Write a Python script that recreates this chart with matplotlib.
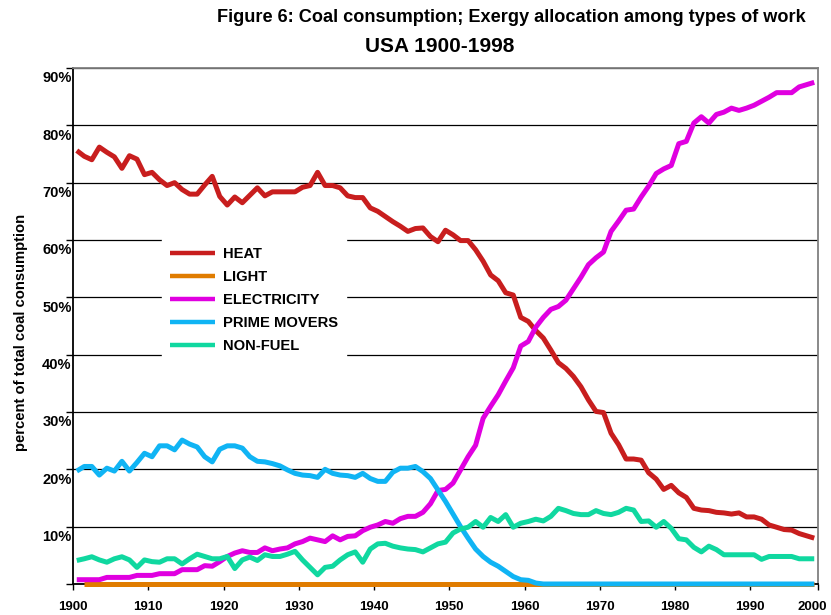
import numpy as np
import matplotlib
matplotlib.use('Agg')
import matplotlib.pyplot as plt
from matplotlib.transforms import ScaledTranslation

plt.rcParams['font.family'] = ['Liberation Sans', 'DejaVu Sans']
plt.rcParams['font.weight'] = 'bold'

# annual data 1900-1998, percent of total coal consumption
years = np.arange(1900, 1999)

heat = [
    75.6, 74.6, 74.0, 76.2, 75.3, 74.5, 72.5, 74.7, 74.1, 71.4,
    71.8, 70.5, 69.5, 70.0, 68.8, 68.0, 68.0, 69.6, 71.1, 67.6,
    66.1, 67.5, 66.5, 67.8, 69.1, 67.7, 68.4, 68.4, 68.4, 68.4,
    69.2, 69.5, 71.8, 69.5, 69.5, 69.1, 67.7, 67.4, 67.4, 65.6,
    65.0, 64.1, 63.2, 62.4, 61.5, 62.0, 62.1, 60.6, 59.7, 61.7,
    60.9, 59.9, 59.9, 58.3, 56.3, 53.9, 52.9, 50.8, 50.4, 46.5,
    45.8, 44.2, 42.9, 40.8, 38.6, 37.6, 36.2, 34.4, 32.1, 30.1,
    29.9, 26.3, 24.3, 21.8, 21.8, 21.6, 19.4, 18.3, 16.5, 17.2,
    15.9, 15.1, 13.2, 12.9, 12.8, 12.5, 12.4, 12.2, 12.4, 11.7,
    11.7, 11.3, 10.3, 9.9, 9.5, 9.4, 8.8, 8.4, 8.0,
]

light = [np.nan] + [0.0] * 98

electricity = [
    0.75, 0.75, 0.75, 0.75, 1.15, 1.15, 1.15, 1.15, 1.5, 1.5,
    1.5, 1.8, 1.8, 1.8, 2.5, 2.5, 2.5, 3.2, 3.1, 3.9,
    4.8, 5.4, 5.8, 5.5, 5.5, 6.3, 5.8, 6.1, 6.3, 7.0,
    7.4, 8.0, 7.7, 7.4, 8.4, 7.7, 8.3, 8.4, 9.3, 9.9,
    10.3, 10.9, 10.6, 11.4, 11.8, 11.8, 12.5, 14.0, 16.3, 16.5,
    17.6, 19.9, 22.2, 24.2, 28.9, 31.0, 33.0, 35.4, 37.7, 41.5,
    42.3, 44.8, 46.5, 47.9, 48.4, 49.5, 51.5, 53.5, 55.7, 56.9,
    57.9, 61.5, 63.3, 65.2, 65.4, 67.5, 69.4, 71.6, 72.4, 73.0,
    76.8, 77.2, 80.4, 81.5, 80.4, 81.9, 82.3, 83.0, 82.6, 83.0,
    83.5, 84.2, 84.9, 85.7, 85.7, 85.7, 86.7, 87.1, 87.5,
]

prime_movers = [
    19.7, 20.5, 20.5, 19.0, 20.2, 19.7, 21.4, 19.7, 21.2, 22.8,
    22.2, 24.1, 24.1, 23.4, 25.1, 24.4, 23.9, 22.2, 21.3, 23.5,
    24.1, 24.1, 23.7, 22.2, 21.4, 21.3, 21.0, 20.6, 19.9, 19.3,
    19.0, 18.9, 18.6, 20.0, 19.3, 19.0, 18.9, 18.6, 19.3, 18.4,
    17.9, 17.9, 19.5, 20.2, 20.2, 20.5, 19.6, 18.4, 16.4, 14.4,
    12.2, 10.0, 8.0, 6.1, 4.8, 3.8, 3.1, 2.2, 1.3, 0.75,
    0.64, 0.17,
] + [0.0] * 37

non_fuel = [
    4.1, 4.4, 4.75, 4.2, 3.8, 4.4, 4.75, 4.2, 2.9, 4.2,
    3.9, 3.8, 4.4, 4.4, 3.5, 4.4, 5.2, 4.8, 4.4, 4.4,
    4.8, 2.7, 4.2, 4.7, 4.1, 5.1, 4.8, 4.8, 5.2, 5.7,
    4.2, 2.9, 1.6, 2.9, 3.1, 4.2, 5.1, 5.6, 3.8, 6.1,
    7.0, 7.1, 6.6, 6.3, 6.1, 6.0, 5.6, 6.3, 7.0, 7.3,
    8.9, 9.6, 9.9, 10.9, 9.9, 11.6, 10.9, 12.1, 9.9, 10.6,
    10.9, 11.3, 11.0, 11.8, 13.2, 12.8, 12.3, 12.1, 12.1, 12.8,
    12.3, 12.1, 12.5, 13.2, 12.9, 10.9, 11.0, 9.9, 10.9, 9.7,
    7.9, 7.7, 6.4, 5.6, 6.6, 6.0, 5.1, 5.1, 5.1, 5.1,
    5.1, 4.3, 4.8, 4.8, 4.8, 4.8, 4.4, 4.4, 4.4,
]

series = [
    ('HEAT', heat, '#c81e1e'),
    ('LIGHT', light, '#e07c00'),
    ('ELECTRICITY', electricity, '#e000e0'),
    ('PRIME MOVERS', prime_movers, '#10b4f4'),
    ('NON-FUEL', non_fuel, '#10d8a0'),
]

y_ticks = [0, 10, 20, 30, 40, 50, 60, 70, 80, 90]
x_ticks = [1900, 1910, 1920, 1930, 1940, 1950, 1960, 1970, 1980, 1990, 1999]
x_labels = ['1900', '1910', '1920', '1930', '1940', '1950', '1960', '1970',
            '1980', '1990', '2000']

fig = plt.figure(figsize=(8.31, 6.15), dpi=100)
ax = fig.add_axes([73 / 831, 31 / 615, 745 / 831, 516 / 615])

# categories are centred between year boundaries, as in the source
for name, vals, col in series:
    ax.plot(years + 0.5, vals, color=col, lw=3.6, label=name, zorder=3,
            solid_joinstyle='round', solid_capstyle='butt', clip_on=False)

ax.set_xlim(1900, 1999)
ax.set_ylim(0, 90)

ax.set_yticks(y_ticks)
ax.set_yticklabels([''] + [f'{v}%' for v in y_ticks[1:]])
ax.set_xticks(x_ticks)
ax.set_xticklabels(x_labels)

ax.yaxis.grid(True, color='black', lw=0.9)
ax.set_axisbelow(True)

ax.spines['left'].set_color('black')
ax.spines['bottom'].set_color('black')
ax.spines['top'].set_color('#808080')
ax.spines['right'].set_color('#808080')
for s in ax.spines.values():
    s.set_linewidth(1.3)

ax.tick_params(axis='y', direction='out', length=5, width=1, pad=-4,
               labelsize=10.5)
ax.tick_params(axis='x', direction='out', length=4, width=1, pad=8,
               labelsize=9.5)

# tick labels sit a little below their gridlines
shift = ScaledTranslation(0, -0.09, fig.dpi_scale_trans)
for lab in ax.get_yticklabels():
    lab.set_transform(lab.get_transform() + shift)
last = ax.get_xticklabels()[-1]
last.set_transform(last.get_transform()
                   + ScaledTranslation(-0.06, 0, fig.dpi_scale_trans))

fig.text(21 / 831, 1 - 332 / 615, 'percent of total coal consumption',
         rotation=90, ha='center', va='center', fontsize=10.6,
         fontweight='bold')

fig.text(511 / 831, 1 - 17 / 615,
         'Figure 6: Coal consumption; Exergy allocation among types of work',
         ha='center', va='center', fontsize=13.1, fontweight='bold')
fig.text(440 / 831, 1 - 46 / 615, 'USA 1900-1998',
         ha='center', va='center', fontsize=15, fontweight='bold')

leg = ax.legend(loc='upper left', bbox_to_anchor=(162 / 831, 1 - 239 / 615),
                bbox_transform=fig.transFigure, borderaxespad=0,
                frameon=True, fancybox=False, framealpha=1,
                edgecolor='white', facecolor='white',
                prop={'size': 10.6, 'weight': 'bold'},
                handlelength=3.06, handletextpad=0.52, labelspacing=0.62,
                borderpad=0.54)
for line in leg.get_lines():
    line.set_linewidth(3.2)

fig.savefig('out.png', dpi=100)
